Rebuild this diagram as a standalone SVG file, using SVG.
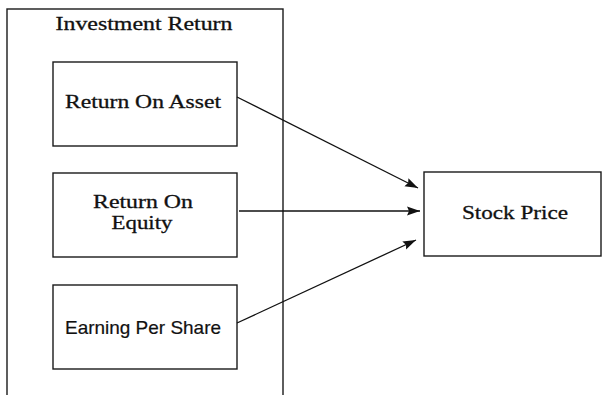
<svg xmlns="http://www.w3.org/2000/svg" width="603" height="395" viewBox="0 0 603 395">
<defs>
<style>
.box{fill:#fff;stroke:#1a1a1a;stroke-width:1.4}
.ser{font-family:"Liberation Serif","Times New Roman",serif;font-size:19px;fill:#111;stroke:#111;stroke-width:0.3}
.san{font-family:"Liberation Sans",Arial,sans-serif;font-size:19px;fill:#111;stroke:#111;stroke-width:0.2}
.con{stroke:#111;stroke-width:1.3;fill:none;marker-end:url(#ah)}
</style>
<marker id="ah" markerUnits="userSpaceOnUse" markerWidth="14" markerHeight="10" refX="13" refY="5" orient="auto">
<path d="M0,0.5 L13,5 L0,9.5 L2,5 Z" fill="#111"/>
</marker>
</defs>
<rect width="603" height="395" fill="#fff"/>
<g id="investment-return">
<rect class="box" x="7" y="9" width="276" height="400"/>
<text class="ser" x="144" y="30" text-anchor="middle" textLength="177" lengthAdjust="spacingAndGlyphs">Investment Return</text>
</g>
<g id="roa">
<rect class="box" x="53" y="62" width="184" height="84"/>
<text class="ser" x="143" y="108" text-anchor="middle" textLength="156" lengthAdjust="spacingAndGlyphs">Return On Asset</text>
</g>
<g id="roe">
<rect class="box" x="53" y="173" width="184" height="84"/>
<text class="ser" x="143" y="208" text-anchor="middle" textLength="100" lengthAdjust="spacingAndGlyphs">Return On</text>
<text class="ser" x="142" y="229" text-anchor="middle" textLength="61" lengthAdjust="spacingAndGlyphs">Equity</text>
</g>
<g id="eps">
<rect class="box" x="53" y="285" width="184" height="84"/>
<text class="san" x="143" y="334" text-anchor="middle" textLength="156" lengthAdjust="spacingAndGlyphs">Earning Per Share</text>
</g>
<g id="stock-price">
<rect class="box" x="424" y="172" width="177" height="84"/>
<text class="ser" x="515" y="219" text-anchor="middle" textLength="106" lengthAdjust="spacingAndGlyphs">Stock Price</text>
</g>
<g id="connectors">
<line class="con" x1="237" y1="97" x2="418" y2="188"/>
<line class="con" x1="239" y1="211" x2="420" y2="211"/>
<line class="con" x1="237" y1="323" x2="416" y2="240"/>
</g>
</svg>
